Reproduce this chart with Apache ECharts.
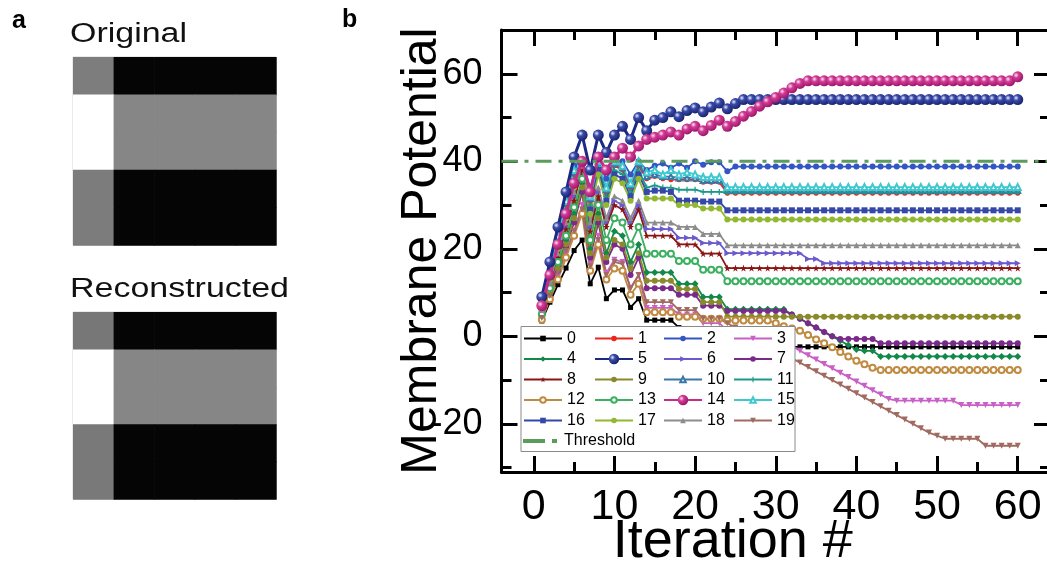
<!DOCTYPE html>
<html><head><meta charset="utf-8">
<script src="https://cdn.jsdelivr.net/npm/echarts@6/dist/echarts.min.js"></script>
<style>html,body{margin:0;padding:0;background:#fff}#c{width:1047px;height:564px}</style>
</head><body><div id="c"></div>
<script>
const iterations = [1,2,3,4,5,6,7,8,9,10,11,12,13,14,15,16,17,18,19,20,21,22,23,24,25,26,27,28,29,30,
31,32,33,34,35,36,37,38,39,40,41,42,43,44,45,46,47,48,49,50,51,52,53,54,55,56,57,58,59,60];

const s0 = [3.5,7.8,11.8,15.6,19.6,22,12,15.8,8.6,10.6,10.6,6.6,8.6, 3.7,3.7,3.7,3.7, 2,0.5,-1, -2,-2.4,-2.4,
-2.4,-2.4,-2.4,-2.4,-2.4,-2.4,-2.4,-2.4,-2.4,-2.4, -2.4,-2.4,-2.4,-2.4,-2.4,-2.4,-2.4,-2.4,-2.4,-2.4, -2.4,-2.4,-2.4,-2.4,-2.4,-2.4,-2.4,-2.4,-2.4,-2.4, -2.4,-2.4,-2.4,-2.4,-2.4,-2.4,-2.4];
const s1 = [7,14.5,22,30,37,40,31,40,33,39,38,34,39, 36,36.5,36,35.8, 35.8,35.8,35.8, 35.2,35.2,35.2,
32.7,32.7,32.7,32.7,32.7,32.7,32.7,32.7,32.7,32.7, 32.7,32.7,32.7,32.7,32.7,32.7,32.7,32.7,32.7,32.7, 32.7,32.7,32.7,32.7,32.7,32.7,32.7,32.7,32.7,32.7, 32.7,32.7,32.7,32.7,32.7,32.7,32.7];
const s2 = [8,16,24,32,39,40,34,40,36,40,40,37,40, 38,39,39.5,38.5, 39.5,38.5,40, 39.2,39.8,39.8, 37.7,
38.8,38.8,38.8,38.8,38.8,38.8,38.8,38.8,38.8,38.8, 38.8,38.8,38.8,38.8,38.8,38.8,38.8,38.8,38.8,38.8, 38.8,38.8,38.8,38.8,38.8,38.8,38.8,38.8,38.8,38.8, 38.8,38.8,38.8,38.8,38.8,38.8];
const s3 = [4,9,14,19,24,30,16.5,23,14.5,17.5,17,11,14, 6.5,6.5,6.5,6.5, 5,5,5, 3,3,3, 1.3,1.3,1.3,1.3,1.3,1.3,
0,-1.1,-2.2,-3.3,-4.3,-5.3,-6.3,-7.3,-8.3,-9.3,-10.3,-11.3,-12.3,-13.3,-14.3,
-14.7,-14.7,-14.7,-14.7,-14.7,-14.7,-14.7,-14.7, -15.7,-15.7,-15.7,-15.7,-15.7,-15.7,-15.7,-15.7];
const s4 = [4.8,10.5,16,22,28,35,20,28,19,24,23,17,21, 14.6,14.6,14.6,14.6, 12,12,12, 9,9,9,
6.2,6.2,6.2,6.2,6.2,6.2,6.2,6.2, 5,4,3,2,1,0,-1,-2,-3, -3.3,-3.3,
-4.6,-4.6,-4.6,-4.6,-4.6,-4.6,-4.6,-4.6,-4.6,-4.6, -4.6,-4.6,-4.6,-4.6,-4.6,-4.6,-4.6,-4.6];
const s5 = [9,17,25,33,41,46,38,46,42,46,48,45,50, 47,49.4,50,51.3,50.2,51.6,52.2,51.3,52.4,53.3,52,53.2,
54.1,54.1,54.1,54.1,54.1,54.1,54.1,54.1,54.1,54.1, 54.1,54.1,54.1,54.1,54.1,54.1,54.1,54.1,54.1,54.1, 54.1,54.1,54.1,54.1,54.1,54.1,54.1,54.1,54.1,54.1, 54.1,54.1,54.1,54.1,54.1];
const s6 = [5.8,12,18.5,25,32,38.5,25,33,26,31,30,26,30, 24.5,24.5,24.5,24.5, 22.5,22.5,22.5, 21.3,21.3,21.3,
19,19,19,19,19,19,19,19,19,19, 17.7,17.7,
16.7,16.7,16.7,16.7,16.7,16.7,16.7,16.7,16.7,16.7, 16.7,16.7,16.7,16.7,16.7,16.7,16.7,16.7,16.7,16.7, 16.7,16.7,16.7,16.7,16.7];
const s7 = [4.4,9.8,15,20.5,26,33,18,26,17,21,20,14,18, 11,11,11,11, 9.5,9.5,9.5, 7,7,7,
5.8,5.8,5.8,5.8,5.8,5.8,5.8,5.8, 5,4,3,2,1,0, -0.6,-0.6,-0.6,-0.6,-0.6,
-1.6,-1.6,-1.6,-1.6,-1.6,-1.6,-1.6,-1.6,-1.6,-1.6, -1.6,-1.6,-1.6,-1.6,-1.6,-1.6,-1.6,-1.6];
const s8 = [5.5,11.5,18,24.5,31,38,24,32,25,30,29,25,29, 23,23,23,23, 21,21,21, 18.9,18.9,18.9,
15.6,15.6,15.6,15.6,15.6,15.6,15.6,15.6,15.6,15.6, 15.6,15.6,15.6,15.6,15.6,15.6,15.6,15.6,15.6,15.6, 15.6,15.6,15.6,15.6,15.6,15.6,15.6,15.6,15.6,15.6, 15.6,15.6,15.6,15.6,15.6,15.6,15.6];
const s9 = [4.6,10,15.5,21,27,34,19,27,18,22,21,15.5,19, 12.7,12.7,12.7,12.7, 10.8,10.8,10.8, 7.8,7.8,7.8,
4.5,4.5,4.5,4.5,4.5,4.5,4.5,4.5,4.5,4.5, 4.5,4.5,4.5,4.5,4.5,4.5,4.5,4.5,4.5,4.5, 4.5,4.5,4.5,4.5,4.5,4.5,4.5,4.5,4.5,4.5, 4.5,4.5,4.5,4.5,4.5,4.5,4.5];
const s10 = [7.2,14.8,22.5,30.5,37.5,40,31.5,40,33.5,39.5,38.5,34.5,39.5, 36.5,37,36.5,36.5, 36.2,36.2,36.2, 35.6,35.6,35.6,
33.3,33.3,33.3,33.3,33.3,33.3,33.3,33.3,33.3,33.3, 33.3,33.3,33.3,33.3,33.3,33.3,33.3,33.3,33.3,33.3, 33.3,33.3,33.3,33.3,33.3,33.3,33.3,33.3,33.3,33.3, 33.3,33.3,33.3,33.3,33.3,33.3,33.3];
const s11 = [6.8,14,21,29,36,40,30,39,32,38,37,33,38, 34,34.5,34,34, 33.5,33.5,33.5, 33,33,33,
32.9,32.9,32.9,32.9,32.9,32.9,32.9,32.9,32.9,32.9, 32.9,32.9,32.9,32.9,32.9,32.9,32.9,32.9,32.9,32.9, 32.9,32.9,32.9,32.9,32.9,32.9,32.9,32.9,32.9,32.9, 32.9,32.9,32.9,32.9,32.9,32.9,32.9];
const s12 = [3.8,8.5,13,18,23,28,15,21,13,15.5,15,9.5,12, 5.5,5.5,5.5,5.5, 4.5,4.5,4.5, 4,4,4, 3.6,3.6,3.6,3.6,3.6,3.6,
3,2.3,1.8,1.3,0.3,-0.7,-1.6,-2.5,-3.6,-4.6,-5.6,-6.4,-7.2,
-7.7,-7.7,-7.7,-7.7,-7.7,-7.7,-7.7,-7.7,-7.7,-7.7, -7.7,-7.7,-7.7,-7.7,-7.7,-7.7,-7.7,-7.7];
const s13 = [5,11,17,23,29.5,36,22,30,22,27,26,21,25, 18.9,18.9,18.9,18.9, 17.2,17.2,17.2, 15.2,15.2,15.2,
12.6,12.6,12.6,12.6,12.6,12.6,12.6,12.6,12.6,12.6, 12.6,12.6,12.6,12.6,12.6,12.6,12.6,12.6,12.6,12.6, 12.6,12.6,12.6,12.6,12.6,12.6,12.6,12.6,12.6,12.6, 12.6,12.6,12.6,12.6,12.6,12.6,12.6];
const s14 = [7,14,21,28,35,40,33,41,38,41,43,41,43.5,
45,45.5,46,46.7,46,47.4,48,47,48.2,49.4,48,49.1,50.3,51.4,52.6,53.6,54.6,55.6,56.8,57.8,
58.4,58.4,58.4,58.4,58.4,58.4,58.4,58.4,58.4,58.4, 58.4,58.4,58.4,58.4,58.4,58.4,58.4,58.4,58.4,58.4, 58.4,58.4,58.4,58.4,58.4,58.4, 59.3];
const s15 = [7.5,15,23,31,38,40,32,40,34,40,39,35,40, 37.5,38,37,38, 37,37.5,37, 36.4,36.4,36.4,
34.1,34.1,34.1,34.1,34.1,34.1,34.1,34.1,34.1,34.1, 34.1,34.1,34.1,34.1,34.1,34.1,34.1,34.1,34.1,34.1, 34.1,34.1,34.1,34.1,34.1,34.1,34.1,34.1,34.1,34.1, 34.1,34.1,34.1,34.1,34.1,34.1,34.1];
const s16 = [6.5,13.5,20.5,28,35,40,29,38,31,37,36,32,37, 33,33.3,33.3,33, 31,31,31, 30.8,30.8,30.8,
28.8,28.8,28.8,28.8,28.8,28.8,28.8,28.8,28.8,28.8, 28.8,28.8,28.8,28.8,28.8,28.8,28.8,28.8,28.8,28.8, 28.8,28.8,28.8,28.8,28.8,28.8,28.8,28.8,28.8,28.8, 28.8,28.8,28.8,28.8,28.8,28.8,28.8];
const s17 = [6.2,13,20,27,34,40,28,37,30,36,35,31,36, 31.5,31.5,31.5,31.5, 30,30,30, 29.2,29.2,29.2,
26.7,26.7,26.7,26.7,26.7,26.7,26.7,26.7,26.7,26.7, 26.7,26.7,26.7,26.7,26.7,26.7,26.7,26.7,26.7,26.7, 26.7,26.7,26.7,26.7,26.7,26.7,26.7,26.7,26.7,26.7, 26.7,26.7,26.7,26.7,26.7,26.7,26.7];
const s18 = [6,12.5,19,26,33,39,26,34,27,32,31,27,31, 26,26,26,26, 25,25,25, 23.4,23.4,23.4,
20.8,20.8,20.8,20.8,20.8,20.8,20.8,20.8,20.8,20.8, 20.8,20.8,20.8,20.8,20.8,20.8,20.8,20.8,20.8,20.8, 20.8,20.8,20.8,20.8,20.8,20.8,20.8,20.8,20.8,20.8, 20.8,20.8,20.8,20.8,20.8,20.8,20.8];
const s19 = [4.2,9.2,14.5,19.5,24,29,16,22,14,17,16.5,11,14, 7.8,7.8,7.8,7.8, 6,6,6, 4,4,4,
3,2,1,0,-1,-2,-3,-4,-5,-6,-7,-8,-9,-10,-11,-12,-13,-14,-15,-16,-17,-18,-19,-20,-21,-22,-22.7,
-23.4,-23.4,-23.4,-23.4,-23.4, -25,-25,-25,-25,-25];

const seriesNames = ['0','1','2','3','4','5','6','7','8','9','10','11','12','13','14','15','16','17','18','19'];
const seriesValues = [s0,s1,s2,s3,s4,s5,s6,s7,s8,s9,s10,s11,s12,s13,s14,s15,s16,s17,s18,s19];
const thresholdValue = 40;
const xTickLabels = [0,10,20,30,40,50,60];
const xMinorTicks = [5,15,25,35,45,55];
const yTickLabels = [-20,0,20,40,60];
const yMinorTicks = [-30,-10,10,30,50,70];
const xRange = [-4, 64];
const yRange = [-31, 70];

// 5x5 gray levels (0 = black, 255 = white), row by row from the top
const originalPixels = [
  [125,5,5,5,5],
  [255,134,134,134,134],
  [255,134,134,134,134],
  [124,5,5,5,5],
  [124,5,5,5,5]];
const reconstructedPixels = [
  [119,5,5,5,5],
  [255,134,134,134,134],
  [255,134,134,134,134],
  [121,5,5,5,5],
  [121,5,5,5,5]];

const FF = "'Liberation Sans', Arial, Helvetica, sans-serif";
const colors = ['#000000','#e8281e','#3356c4','#c860c8','#13884a','#1c2a85','#6a5acd','#7a2a8a','#8b1515','#8a8a2a',
  '#3a78a8','#1a9a8a','#c08a40','#3cb060','#cc2a8a','#40c8d0','#3548a8','#92b832','#8c8c8c','#a06a60'];
const STAR = 'path://M50,0L61,35L98,35L68,57L79,91L50,70L21,91L32,57L2,35L39,35Z';
const PLUS = 'path://M40,0h20v40h40v20h-40v40h-20v-40h-40v-20h40z';
const symbols = ['rect','circle','circle','triangle','diamond','circle','triangle','circle','STAR','circle',
  'emptyTriangle','PLUS','emptyCircle','emptyCircle','circle','emptyTriangle','rect','circle','triangle','triangle'];
const rotates = [0,0,0,180,0,0,-90,0,0,0,0,0,0,0,0,0,0,0,0,180];
const sizes = [5,5,6,6,7,11,6,6,7,6,5,6,6,6,11,6,6,6,6,6];
const widths = [1.8,1.8,1.8,1.8,1.8,3,1.8,1.8,1.8,1.8,1.8,1.8,1.8,1.8,3,1.8,1.8,1.8,1.8,1.8];

function sphere(light, mid, dark) {
  return {type:'radial', x:0.35, y:0.35, r:0.7, colorStops:[
    {offset:0, color:light},{offset:0.35, color:mid},{offset:1, color:dark}]};
}

const series = seriesValues.map((vals, i) => {
  let sym = symbols[i] === 'STAR' ? STAR : symbols[i] === 'PLUS' ? PLUS : symbols[i];
  let itemColor = colors[i];
  if (i === 5) itemColor = sphere('#e8ecff','#3a4aa8','#16206a');
  if (i === 14) itemColor = sphere('#ffe6f4','#d23c96','#9a1466');
  return {
    type:'line', name: seriesNames[i], xAxisIndex:0, yAxisIndex:0,
    data: iterations.map((x, k) => [x, vals[k]]),
    symbol: sym, symbolSize: sizes[i], symbolRotate: rotates[i],
    lineStyle: {color: colors[i], width: widths[i]},
    itemStyle: {color: itemColor},
    z: (i === 5 || i === 14) ? 2.3 : 2,
    animation:false
  };
});
series.push({
  type:'line', name:'Threshold', xAxisIndex:0, yAxisIndex:0,
  data: xRange.map(x => [x, thresholdValue]),
  symbol:'none', lineStyle:{color:'#5b9b5b', width:3, type:[16,7,4,7]},
  itemStyle:{color:'#5b9b5b'}, z:2.5, animation:false
});
function pixelSeries(pixels, axisIdx) {
  const d = [];
  pixels.forEach((row, r) => row.forEach((v, c) => d.push([c, r, v])));
  return {
    type:'custom', xAxisIndex:axisIdx, yAxisIndex:axisIdx, data:d, animation:false, silent:true,
    renderItem: (params, api) => {
      const c = api.value(0), r = api.value(1), g = api.value(2);
      const p0 = api.coord([c, r]), p1 = api.coord([c + 1, r + 1]);
      return {type:'rect',
        shape:{x:Math.min(p0[0], p1[0]), y:Math.min(p0[1], p1[1]),
               width:Math.abs(p1[0] - p0[0]) + 0.7, height:Math.abs(p1[1] - p0[1]) + 0.7},
        style:{fill:'rgb(' + g + ',' + g + ',' + g + ')'}};
    }
  };
}
series.push(pixelSeries(originalPixels, 4));
series.push(pixelSeries(reconstructedPixels, 5));

const black = '#000';
function frameX(pos, ticks, len, line, labels) {
  return {type:'value', gridIndex:0, min:xRange[0], max:xRange[1], position:pos,
    axisLine:{show:line, onZero:false, lineStyle:{color:black, width:3}},
    axisTick:{show:true, inside:true, length:len, customValues:ticks, lineStyle:{color:black, width:3}},
    axisLabel:{show:labels, customValues:ticks, fontSize:43, color:black, margin:14, fontFamily:FF},
    splitLine:{show:false}};
}
function frameY(pos, ticks, len, line, labels) {
  return {type:'value', gridIndex:0, min:yRange[0], max:yRange[1], position:pos,
    axisLine:{show:line, onZero:false, lineStyle:{color:black, width:3}},
    axisTick:{show:true, inside:true, length:len, customValues:ticks, lineStyle:{color:black, width:3}},
    axisLabel:{show:labels, customValues:ticks, fontSize:36, color:black, margin:19, fontFamily:FF},
    splitLine:{show:false}};
}
const xb = frameX('bottom', xTickLabels, 16, true, true);
xb.name = 'Iteration #'; xb.nameLocation = 'middle'; xb.nameGap = 43; xb.nameMoveOverlap = false;
xb.nameTextStyle = {fontSize:54, color:black, fontFamily:FF, padding:[0,86,0,0]};
const yl = frameY('left', yTickLabels, 16, true, true);
yl.name = 'Membrane Potential'; yl.nameLocation = 'middle'; yl.nameGap = 54; yl.nameMoveOverlap = false;
yl.nameTextStyle = {fontSize:50, color:black, fontFamily:FF};

function imgAxis(grid, inverse) {
  return {type:'value', gridIndex:grid, min:0, max:5, inverse:inverse, show:false, splitLine:{show:false}};
}
const xAxes = [xb, frameX('bottom', xMinorTicks, 10, false, false), frameX('top', xTickLabels, 16, true, false), frameX('top', xMinorTicks, 10, false, false),
  imgAxis(1, false), imgAxis(2, false)];
const yAxes = [yl, frameY('left', yMinorTicks, 10, false, false), frameY('right', yTickLabels, 16, true, false), frameY('right', yMinorTicks, 10, false, false),
  imgAxis(1, true), imgAxis(2, true)];

const colLefts = [523, 594, 663, 733];
const rowCenters = [338.5, 359, 379.5, 400, 420.5, 441];
const legendEntries = seriesNames.map((n, i) => ({name:n, col:i % 4, row:Math.floor(i / 4)}));
legendEntries.push({name:'Threshold', col:0, row:5});
const legends = legendEntries.map(e => {
  const isT = e.name === 'Threshold';
  const big = e.name === '5' || e.name === '14';
  return {
    data: [isT ? {name:'Threshold', icon:'path://M0,0h22v4h-22zM29,0h5v4h-5z', itemStyle:{color:'#5b9b5b', borderWidth:0}} : e.name],
    left: colLefts[e.col], top: rowCenters[e.row] - 8, orient:'horizontal',
    itemWidth:38, itemHeight: isT ? 4 : (big ? 13 : 7), itemGap:0, padding:0,
    selectedMode:false, z:6,
    textStyle:{fontSize:16, lineHeight:16, color:black, fontFamily:FF}
  };
});

const chart = echarts.init(document.getElementById('c'), null, {renderer:'canvas'});
chart.setOption({
  backgroundColor:'#fff',
  animation:false,
  textStyle:{fontFamily:FF},
  grid:[
    {left:501.5, top:30, right:-3, bottom:92, containLabel:false, outerBoundsMode:'none'},
    {left:73, top:57, width:203, height:188, show:true, borderColor:'#d4d4d4', borderWidth:1, outerBoundsMode:'none'},
    {left:73, top:312, width:203, height:187, show:true, borderColor:'#d4d4d4', borderWidth:1, outerBoundsMode:'none'}
  ],
  xAxis: xAxes,
  yAxis: yAxes,
  legend: legends,
  graphic:[
    {type:'rect', shape:{x:521, y:326.5, width:274, height:125}, style:{fill:'#fff', stroke:'#8a8a8a', lineWidth:1}, z:5},
    {type:'text', x:12, y:9, style:{text:'a', fontSize:25, fontWeight:'bold', fill:black, fontFamily:FF, verticalAlign:'top'}},
    {type:'text', x:342, y:8, style:{text:'b', fontSize:25, fontWeight:'bold', fill:black, fontFamily:FF, verticalAlign:'top'}},
    {type:'text', x:70, y:21, scaleX:1.258, style:{text:'Original', fontSize:27, fill:'#111', fontFamily:FF, verticalAlign:'top'}},
    {type:'text', x:70, y:276, scaleX:1.258, style:{text:'Reconstructed', fontSize:27, fill:'#111', fontFamily:FF, verticalAlign:'top'}}
  ],
  series: series
});
</script></body></html>
